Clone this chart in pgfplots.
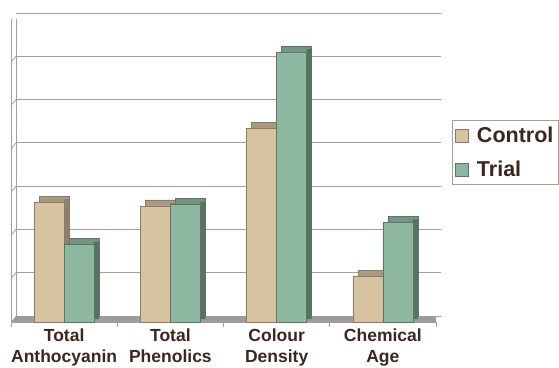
\documentclass[border=0pt]{standalone}
\usepackage{pgfplots}
\usepackage{pgfplotstable}
\pgfplotsset{compat=1.18}
\usepackage{fontspec}
\setmainfont{Liberation Sans}
\definecolor{ctrl}{HTML}{D7C39F}
\definecolor{ctrlside}{HTML}{8E8169}
\definecolor{ctrltop}{HTML}{A99A7F}
\definecolor{ctrledge}{HTML}{8A7B6A}
\definecolor{trial}{HTML}{8DB7A1}
\definecolor{trialside}{HTML}{587262}
\definecolor{trialtop}{HTML}{749584}
\definecolor{trialedge}{HTML}{5F7568}
\definecolor{gridc}{HTML}{A79E98}
\definecolor{txt}{HTML}{3B2620}
\definecolor{floorc}{HTML}{9C9C9C}

\pgfplotstableread{
x control trial
0 2.77 1.79
1 2.68 2.72
2 4.47 6.24
3 1.06 2.30
}\datatable

\begin{document}
\begin{tikzpicture}[x=1pt,y=1pt]
\begin{axis}[
  at={(11pt,45pt)}, anchor=south west,
  scale only axis, width=425pt, height=303pt,
  xmin=-0.5, xmax=3.5, ymin=0, ymax=7,
  axis x line*=bottom, axis y line*=left,
  xtick={-0.5,0.5,1.5,2.5,3.5},
  x tick label as interval,
  xticklabels={Total\\Anthocyanin, Total\\Phenolics, Colour\\Density, Chemical\\Age},
  xticklabel style={align=center, font=\fontsize{17.5}{21}\selectfont\bfseries, text=txt, yshift=1.5pt},
  ytick={0,...,7}, yticklabels={},
  ytick style={draw=none},
  ymajorgrids, grid style={gridc, line width=0.8pt, xshift=5pt, yshift=6pt},
  axis line style={gridc, line width=0.8pt, -},
  tick align=outside, major tick length=5pt,
  xtick style={gridc, line width=0.8pt},
  legend style={at={(1.0376,0.6654)}, anchor=north west, draw=gridc, line width=0.8pt,
    fill=white, font=\fontsize{21.5}{25}\selectfont\bfseries, text=txt,
    inner xsep=3pt, inner ysep=4pt, row sep=13pt,
    /tikz/every odd column/.append style={column sep=6pt}},
  legend cell align=left,
  legend image code/.code={\draw[#1, line width=0.6pt] (3pt,-6.5pt) rectangle (16pt,6.5pt);},
]
% back wall and left wall
\draw[gridc, line width=0.8pt] ([xshift=5pt,yshift=6pt]axis cs:-0.5,0) -- ([xshift=5pt,yshift=6pt]axis cs:-0.5,7) -- ([xshift=5pt,yshift=6pt]axis cs:3.5,7) -- ([xshift=5pt,yshift=6pt]axis cs:3.5,0);
\draw[gridc, line width=0.8pt] (axis cs:-0.5,7) -- ([xshift=5pt,yshift=6pt]axis cs:-0.5,7);
\pgfplotsinvokeforeach{1,...,6}{
  \draw[gridc, line width=0.8pt] (axis cs:-0.5,#1) -- ([xshift=5pt,yshift=6pt]axis cs:-0.5,#1);
}
% floor
\fill[floorc] (axis cs:-0.5,0) -- ([xshift=5pt,yshift=6pt]axis cs:-0.5,0) -- ([xshift=5pt,yshift=6pt]axis cs:3.5,0) -- (axis cs:3.5,0) -- cycle;
% control
\addplot[ybar, bar width=30pt, bar shift=-15pt, fill=ctrltop, draw=ctrledge, line width=0.5pt, xshift=5pt, yshift=6pt, forget plot] table[x=x, y=control]{\datatable};
\addplot[ybar, bar width=5pt, bar shift=2.5pt, fill=ctrlside, draw=none, yshift=3pt, forget plot] table[x=x, y=control]{\datatable};
\addplot[ybar, bar width=30pt, bar shift=-15pt, fill=ctrl, draw=ctrledge, line width=0.6pt] table[x=x, y=control]{\datatable};
\addlegendentry{Control}
% trial
\addplot[ybar, bar width=30pt, bar shift=15pt, fill=trialtop, draw=trialedge, line width=0.5pt, xshift=5pt, yshift=6pt, forget plot] table[x=x, y=trial]{\datatable};
\addplot[ybar, bar width=5pt, bar shift=32.5pt, fill=trialside, draw=none, yshift=3pt, forget plot] table[x=x, y=trial]{\datatable};
\addplot[ybar, bar width=30pt, bar shift=15pt, fill=trial, draw=trialedge, line width=0.6pt] table[x=x, y=trial]{\datatable};
\addlegendentry{Trial}
\end{axis}
\pgfresetboundingbox
\useasboundingbox (0pt,0pt) rectangle (559pt,367pt);
\end{tikzpicture}
\end{document}
